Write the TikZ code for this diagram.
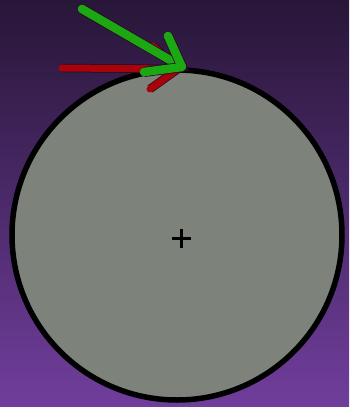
\documentclass[tikz,border=0pt]{standalone}
\usetikzlibrary{calc}
\definecolor{bgtop}{RGB}{40,22,56}
\definecolor{bgbot}{RGB}{112,62,156}
\definecolor{disc}{RGB}{125,130,122}
\definecolor{vecgreen}{RGB}{28,168,18}
\definecolor{vecred}{RGB}{168,2,10}
\definecolor{rim}{RGB}{40,10,30}

\begin{document}
\begin{tikzpicture}[x=1pt, y=-1pt,
    body/.style={draw=black, line width=5.5pt, fill=disc},
    cross/.style={draw=black, line width=3pt},
    redvec/.style={line width=7pt, line cap=round, line join=round, draw=vecred,
        preaction={draw=rim, line width=8.5pt}},
    greenvec/.style={line width=8.5pt, line cap=round, line join=round, draw=vecgreen,
        preaction={draw=rim, line width=10pt}}
]
% background
\fill[top color=bgtop, bottom color=bgbot] (0,0) rectangle (349,407);
\useasboundingbox (0,0) rectangle (349,407);

% disc and centre mark
\coordinate (C) at (177,235);
\draw[body] (C) circle (165);
\coordinate (M) at (181,238);
\draw[cross] ($(M)+(-9.5,0)$) -- ($(M)+(9.5,0)$);
\draw[cross] ($(M)+(0,-9.5)$) -- ($(M)+(0,9.5)$);

% red vector
\coordinate (r0) at (62,68);
\coordinate (rt) at (178,69);
\coordinate (ra) at (153,46);
\coordinate (rb) at (150,89);
\draw[redvec] (r0) -- (rt);
\draw[redvec] (ra) -- (rt) -- (rb);

% green vector
\coordinate (g0) at (82,9);
\coordinate (gt) at (182,67);
\coordinate (ga) at (168,36);
\coordinate (gb) at (144,72);
\draw[greenvec] (g0) -- (gt);
\draw[greenvec] (ga) -- (gt) -- (gb);
\end{tikzpicture}
\end{document}
